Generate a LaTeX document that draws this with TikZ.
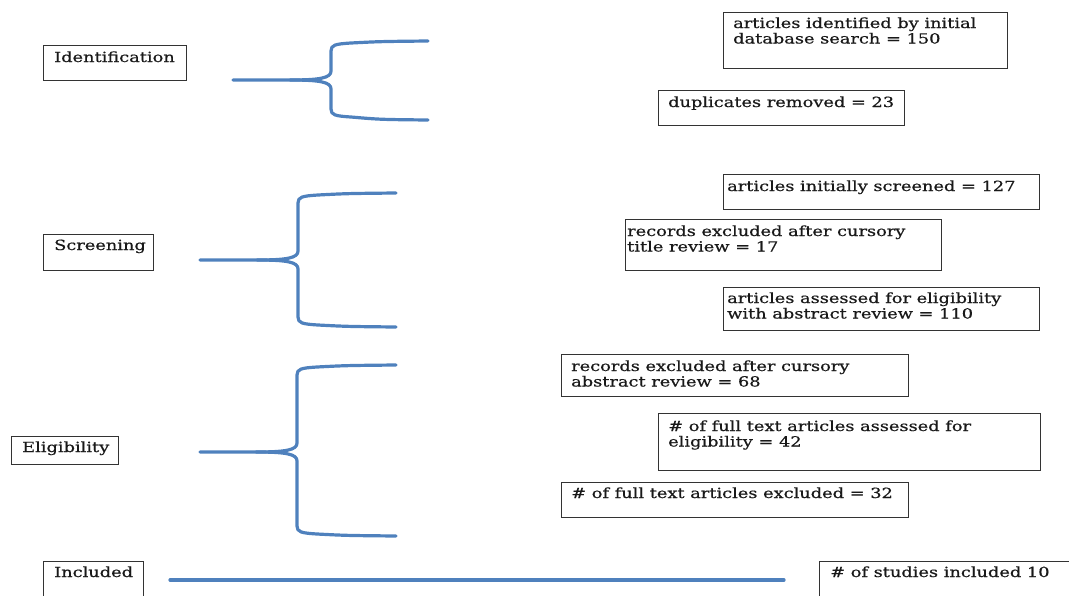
\documentclass[tikz,border=0pt]{standalone}
\usepackage{fontspec}
\newfontfamily\boxfont[FakeStretch=1.27,FakeBold=0.6]{DejaVu Serif}
\definecolor{bracecol}{RGB}{79,129,189}
\tikzset{
  bx/.style={draw=black!80, line width=1.4pt, anchor=north west, inner sep=0pt, fill=none},
  tx/.style={anchor=base west, inner sep=0pt, text=black!90, font=\boxfont\fontsize{14}{15.5}\selectfont},
  brace/.style={draw=bracecol, line width=3.2pt, line join=round, line cap=round},
}
\newcommand\tl[1]{\parbox[t]{400pt}{\raggedright #1}}
\begin{document}
\begin{tikzpicture}[x=1pt,y=-1pt]
\useasboundingbox (0,0) rectangle (1069,595);
% stage boxes
\node[bx, minimum width=143pt, minimum height=35pt] (ident) at (43,45) {};
\node[tx] (identT) at (54,62) {Identification};
\node[bx, minimum width=110pt, minimum height=36pt] (screen) at (43,234) {};
\node[tx] (screenT) at (54,250) {Screening};
\node[bx, minimum width=107pt, minimum height=28pt] (elig) at (11,436) {};
\node[tx] (eligT) at (22,452) {Eligibility};
\node[bx, minimum width=100pt, minimum height=45pt] (incl) at (43,561) {};
\node[tx] (inclT) at (54,577) {Included};
% result boxes
\node[bx, minimum width=284pt, minimum height=56pt] (b1) at (723,12) {};
\node[tx] (b1T) at (733,28) {\tl{articles identified by initial\\database search = 150}};
\node[bx, minimum width=246pt, minimum height=35pt] (b2) at (658,90) {};
\node[tx] (b2T) at (668,107) {duplicates removed = 23};
\node[bx, minimum width=316pt, minimum height=35pt] (b3) at (723,174) {};
\node[tx] (b3T) at (727,191) {articles initially screened = 127};
\node[bx, minimum width=316pt, minimum height=51pt] (b4) at (625,219) {};
\node[tx] (b4T) at (627,236) {\tl{records excluded after cursory\\title review = 17}};
\node[bx, minimum width=316pt, minimum height=43pt] (b5) at (723,287) {};
\node[tx] (b5T) at (727,303) {\tl{articles assessed for eligibility\\with abstract review = 110}};
\node[bx, minimum width=347pt, minimum height=42pt] (b6) at (561,354) {};
\node[tx] (b6T) at (571,371) {\tl{records excluded after cursory\\abstract review = 68}};
\node[bx, minimum width=382pt, minimum height=57pt] (b7) at (658,413) {};
\node[tx] (b7T) at (668,431) {\tl{\# of full text articles assessed for\\eligibility = 42}};
\node[bx, minimum width=347pt, minimum height=35pt] (b8) at (561,482) {};
\node[tx] (b8T) at (571,498) {\# of full text articles excluded = 32};
\node[bx, minimum width=260pt, minimum height=45pt] (b9) at (819,561) {};
\node[tx] (b9T) at (830,577) {\# of studies included 10};
% braces
\coordinate (s1) at (233,80);
\draw[brace] (s1) -- (290,80) .. controls (320,80) and (331,78) .. (331,71) -- (331,51)
  .. controls (331,45) and (335,44) .. (351,43) .. controls (380,41.5) .. (428,41);
\draw[brace] (290,80) .. controls (320,80) and (331,82) .. (331,89) -- (331,109)
  .. controls (331,115) and (335,116) .. (351,117) .. controls (380,119.5) .. (428,120);
\coordinate (s2) at (200,260);
\draw[brace] (s2) -- (257,260) .. controls (287,260) and (298,258) .. (298,251) -- (298,203)
  .. controls (298,197) and (302,196) .. (318,195) .. controls (347,193.5) .. (396,193);
\draw[brace] (257,260) .. controls (287,260) and (298,262) .. (298,269) -- (298,317)
  .. controls (298,323) and (302,324) .. (318,325) .. controls (347,326.5) .. (396,327);
\coordinate (s3) at (200,452);
\draw[brace] (s3) -- (256,452) .. controls (286,452) and (297,450) .. (297,443) -- (297,375)
  .. controls (297,369) and (301,368) .. (317,367) .. controls (346,365.5) .. (396,365);
\draw[brace] (256,452) .. controls (286,452) and (297,454) .. (297,461) -- (297,526)
  .. controls (297,532) and (301,533) .. (317,534) .. controls (346,535.5) .. (396,536);
% included line
\coordinate (l1) at (170,580);
\coordinate (l2) at (784,580);
\draw[brace] (l1) -- (l2);
\end{tikzpicture}
\end{document}
